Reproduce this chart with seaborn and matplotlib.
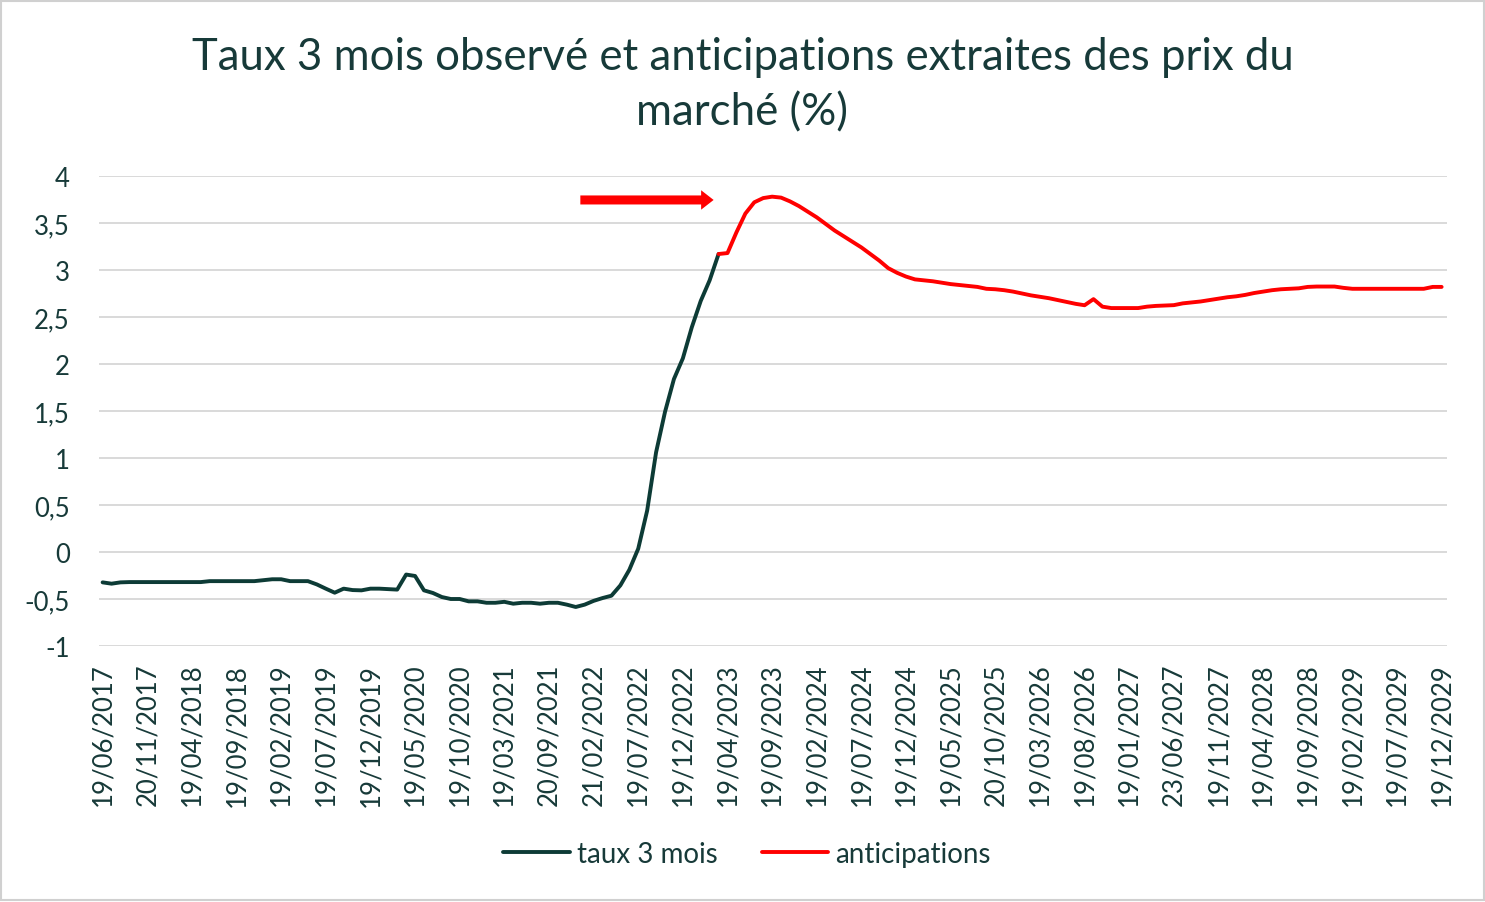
import pandas as pd
import seaborn as sns
import matplotlib.pyplot as plt

# Taux 3 mois observé (un point par mois, juin 2017 -> avril 2023)
taux_3_mois = [-0.323, -0.337, -0.323, -0.32, -0.32, -0.32, -0.32, -0.32, -0.32, -0.32,
               -0.32, -0.32, -0.31, -0.31, -0.31, -0.31, -0.31, -0.31, -0.30, -0.29,
               -0.29, -0.31, -0.31, -0.31, -0.345, -0.39, -0.433, -0.39, -0.405, -0.408,
               -0.39, -0.39, -0.395, -0.40, -0.24, -0.255, -0.408, -0.436, -0.479, -0.50,
               -0.50, -0.525, -0.525, -0.54, -0.54, -0.53, -0.55, -0.54, -0.54, -0.55,
               -0.54, -0.54, -0.56, -0.585, -0.56, -0.52, -0.49, -0.465, -0.355, -0.19,
               0.035, 0.44, 1.06, 1.49, 1.84, 2.06, 2.39, 2.67, 2.89, 3.17]

# Anticipations extraites des prix du marché (avril 2023 -> décembre 2029)
anticipations = [3.17, 3.18, 3.40, 3.60, 3.72, 3.765, 3.78, 3.77, 3.73, 3.68,
                 3.62, 3.56, 3.49, 3.42, 3.36, 3.30, 3.24, 3.17, 3.10, 3.02,
                 2.97, 2.93, 2.90, 2.89, 2.88, 2.865, 2.85, 2.84, 2.83, 2.82,
                 2.80, 2.795, 2.785, 2.77, 2.75, 2.73, 2.715, 2.70, 2.68, 2.66,
                 2.64, 2.625, 2.69, 2.61, 2.595, 2.595, 2.595, 2.595, 2.61, 2.618,
                 2.622, 2.626, 2.645, 2.655, 2.665, 2.68, 2.695, 2.71, 2.72, 2.735,
                 2.755, 2.77, 2.785, 2.795, 2.80, 2.805, 2.82, 2.824, 2.824, 2.824,
                 2.81, 2.80, 2.80, 2.80, 2.80, 2.80, 2.80, 2.80, 2.80, 2.80,
                 2.82, 2.82]

# étiquettes de l'axe des x (une date sur 5)
dates_affichees = ["19/06/2017", "20/11/2017", "19/04/2018", "19/09/2018", "19/02/2019",
                   "19/07/2019", "19/12/2019", "19/05/2020", "19/10/2020", "19/03/2021",
                   "20/09/2021", "21/02/2022", "19/07/2022", "19/12/2022", "19/04/2023",
                   "19/09/2023", "19/02/2024", "19/07/2024", "19/12/2024", "19/05/2025",
                   "20/10/2025", "19/03/2026", "19/08/2026", "19/01/2027", "23/06/2027",
                   "19/11/2027", "19/04/2028", "19/09/2028", "19/02/2029", "19/07/2029",
                   "19/12/2029"]

y_ticks = [-1, -0.5, 0, 0.5, 1, 1.5, 2, 2.5, 3, 3.5, 4]
y_labels = ["-1", "-0,5", "0", "0,5", "1", "1,5", "2", "2,5", "3", "3,5", "4"]

debut_anticip = len(taux_3_mois) - 1
df_obs = pd.DataFrame({"pos": range(len(taux_3_mois)), "val": taux_3_mois})
df_ant = pd.DataFrame({"pos": range(debut_anticip, debut_anticip + len(anticipations)),
                       "val": anticipations})

sns.set_style("white")
plt.rcParams["font.family"] = ["Lato", "DejaVu Sans"]
txt_color = "#173A39"

fig = plt.figure(figsize=(14.85, 9.03), dpi=100)
ax = fig.add_axes([0.0667, 0.2835, 0.9077, 0.5205])

sns.lineplot(data=df_obs, x="pos", y="val", ax=ax, color="#0D3B36", linewidth=2.8,
             label="taux 3 mois")
sns.lineplot(data=df_ant, x="pos", y="val", ax=ax, color="#FF0000", linewidth=2.8,
             label="anticipations")

ax.set_ylim(-1, 4)
ax.set_xlim(-0.4, len(taux_3_mois) + len(anticipations) - 2 + 0.6)
ax.set_yticks(y_ticks)
ax.set_yticklabels(y_labels, fontsize=18.5, color=txt_color)
ax.set_xticks(range(0, 5 * len(dates_affichees), 5))
ax.set_xticklabels(dates_affichees, rotation=90, fontsize=18.5, color=txt_color)
ax.tick_params(axis="both", length=0)
ax.tick_params(axis="y", pad=21)
ax.tick_params(axis="x", pad=12)
ax.set_xlabel("")
ax.set_ylabel("")
ax.yaxis.grid(True, color="#D9D9D9", linewidth=1.4)
ax.set_axisbelow(True)
for s in ax.spines.values():
    s.set_visible(False)

# flèche rouge
ax.annotate("", xy=(0.458, 0.949), xytext=(0.355, 0.949), xycoords="axes fraction",
            arrowprops=dict(arrowstyle="simple,head_width=14,head_length=9,tail_width=6.5",
                            mutation_scale=1, color="#FF0000", lw=0))

fig.text(0.5, 0.906, "Taux 3 mois observé et anticipations extraites des prix du\nmarché (%)",
         ha="center", va="center", fontsize=31.5, color=txt_color, linespacing=1.42)

handles, labels = ax.get_legend_handles_labels()
ax.get_legend().remove()
fig.legend(handles, labels, loc="center", bbox_to_anchor=(0.503, 0.053), ncol=2,
           frameon=False, fontsize=20, handlelength=2.4, handletextpad=0.25,
           columnspacing=1.6, labelcolor=txt_color)

fig.patches.append(plt.Rectangle((0.001, 0.002), 0.998, 0.996, transform=fig.transFigure,
                                 fill=False, ec="#D0D0D0", lw=1.5))

fig.savefig("out.png", dpi=100)
